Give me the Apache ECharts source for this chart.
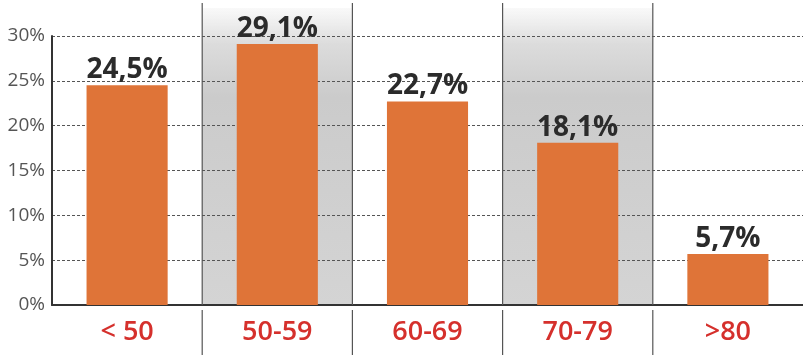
<!DOCTYPE html>
<html>
<head>
<meta charset="utf-8">
<script src="https://cdn.jsdelivr.net/npm/echarts@6/dist/echarts.min.js"></script>
<style>
  html, body { margin: 0; padding: 0; background: #fff; }
  #chart { width: 803px; height: 359px; }
</style>
</head>
<body>
<div id="chart"></div>
<script>
'use strict';

// age groups and share of cases (%)
const categories = ['< 50', '50-59', '60-69', '70-79', '>80'];
const shares = [24.5, 29.1, 22.7, 18.1, 5.7];
// categories drawn on a grey band
const shadedGroups = ['50-59', '70-79'];

const chart = echarts.init(document.getElementById('chart'));

chart.setOption({
  animation: false,
  textStyle: { fontFamily: 'Open Sans' },
  grid: { left: 52, right: -3, top: 36, bottom: 54 },
  xAxis: {
    type: 'category',
    data: categories,
    axisLine: { lineStyle: { color: '#333', width: 2 } },
    axisTick: { show: false },
    axisLabel: {
      color: '#d5302c',
      fontSize: 27,
      fontWeight: 600,
      margin: 14
    },
    z: 3
  },
  yAxis: {
    type: 'value',
    min: 0,
    max: 30,
    interval: 5,
    axisLine: { show: true, lineStyle: { color: '#333', width: 2 } },
    axisLabel: {
      color: '#555',
      fontSize: 19,
      margin: 7,
      formatter: '{value}%'
    },
    splitLine: { lineStyle: { color: '#555', type: [3, 2], width: 1 } },
    z: 3
  },
  series: [{
    type: 'bar',
    data: shares,
    barWidth: '54%',
    itemStyle: { color: '#df7438' },
    label: {
      show: true,
      position: 'top',
      distance: 1,
      fontSize: 28,
      fontWeight: 'bold',
      color: '#2b2b2b',
      formatter: p => String(p.value).replace('.', ',') + '%'
    },
    z: 4
  }]
});

// bands and separators positioned from the axis scales
function drawDecor() {
  const centers = categories.map((c, i) => chart.convertToPixel({ xAxisIndex: 0 }, i));
  const step = centers[1] - centers[0];
  const y0 = chart.convertToPixel({ yAxisIndex: 0 }, 0);
  const elements = [];

  categories.forEach((c, i) => {
    const left = centers[i] - step / 2;
    if (shadedGroups.indexOf(c) >= 0) {
      elements.push({
        type: 'rect',
        z: -1,
        shape: { x: left, y: 8, width: step, height: y0 - 8 },
        style: {
          fill: new echarts.graphic.LinearGradient(0, 0, 0, 1, [
            { offset: 0, color: 'rgba(225,225,225,0.2)' },
            { offset: 0.12, color: '#dcdcdc' },
            { offset: 0.3, color: '#cbcbcb' },
            { offset: 1, color: '#d4d4d4' }
          ])
        }
      });
    }
    if (i > 0) {
      elements.push({
        type: 'line',
        z: 5,
        shape: { x1: left, y1: 3, x2: left, y2: y0 },
        style: { stroke: '#555', lineWidth: 1.2 }
      });
      elements.push({
        type: 'line',
        z: 5,
        shape: { x1: left, y1: y0 + 5, x2: left, y2: y0 + 50 },
        style: { stroke: '#555', lineWidth: 1.2 }
      });
    }
  });

  chart.setOption({ graphic: { elements: elements } });
}

drawDecor();
</script>
</body>
</html>
